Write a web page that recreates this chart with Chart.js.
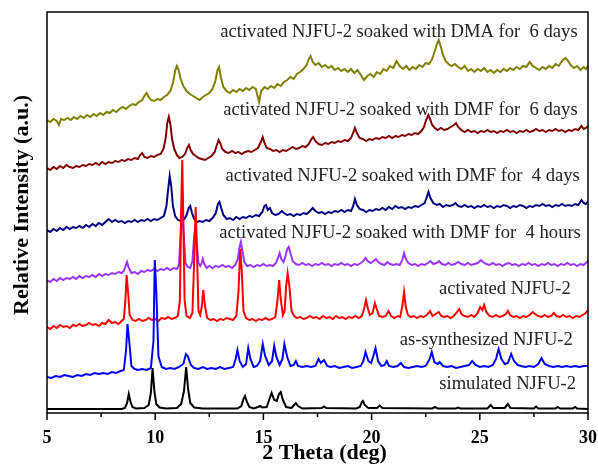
<!DOCTYPE html>
<html>
<head>
<meta charset="utf-8">
<script src="https://cdn.jsdelivr.net/npm/chart.js@4.4.1/dist/chart.umd.min.js"></script>
<style>
  html, body { margin: 0; padding: 0; background: #fff; }
  #wrap { width: 598px; height: 472px; }
</style>
</head>
<body>
<div id="wrap"><canvas id="pxrd" width="598" height="472"></canvas></div>
<script>
// stacked PXRD patterns, x = 2 theta (deg), y = intensity (a.u., already offset)
const patternNames = [
  "simulated NJFU-2",
  "as-synthesized NJFU-2",
  "activated NJFU-2",
  "activated NJFU-2 soaked with DMF for  4 hours",
  "activated NJFU-2 soaked with DMF for  4 days",
  "activated NJFU-2 soaked with DMF for  6 days",
  "activated NJFU-2 soaked with DMA for  6 days",
];
const xTicks = [5, 10, 15, 20, 25, 30];

const simulated = [
  [5,2],[8.45,2],[8.6,3],[8.7,8],[8.78,17],[8.86,9],[8.95,4],[9.1,2.5],[9.5,3],[9.7,6],[9.8,18],[9.88,43],[9.96,20],
  [10.05,7],[10.2,3.5],[10.5,2.5],[11.0,3],[11.2,7],[11.33,20],[11.43,44],[11.52,22],[11.62,8],[11.8,3.5],[12.2,2.5],
  [13.8,2.5],[13.98,5],[14.08,12],[14.15,15],[14.24,9],[14.35,4],[14.55,2.5],[14.75,4],[14.85,5],[14.95,3.5],[15.15,4],
  [15.28,12],[15.38,18],[15.5,11],[15.62,10],[15.72,17],[15.8,19],[15.9,11],[16.05,4],[16.3,3],[16.42,6],[16.5,8],
  [16.6,5],[16.8,2.5],[17.7,3],[17.8,4.5],[17.9,3],[19.3,2.5],[19.45,4],[19.55,9],[19.6,10],[19.68,6],[19.85,3],
  [20.25,3],[20.38,5.5],[20.5,3],[22.8,2.5],[22.93,4],[23.05,2.5],[23.9,2.5],[24.0,3.5],[24.1,2.5],[25.35,2.5],
  [25.5,6],[25.62,3],[26.15,3],[26.3,7],[26.42,3],[27.5,2.5],[27.6,4.5],[27.7,2.5],[28.5,2.5],[28.6,4],[28.7,2.5],
  [29.3,2.5],[29.4,4],[29.5,2.5],[30,2]
];

const asSynthesized = [
  [5,34],[5.2,33],[5.4,35],[5.6,34],[5.8,36],[6,35],[6.2,34],[6.4,36],[6.6,35],[6.8,37],[7,36],[7.2,38],[7.4,37],
  [7.6,38],[7.8,37],[8,39],[8.2,38],[8.4,40],[8.55,41],[8.65,60],[8.72,87],[8.8,70],[8.9,45],[9.05,42],[9.2,41],
  [9.4,42],[9.6,41],[9.8,43],[9.92,70],[9.98,151],[10.05,120],[10.15,55],[10.3,44],[10.5,42],[10.7,43],[10.9,42],
  [11.1,44],[11.3,47],[11.42,57],[11.5,55],[11.65,46],[11.8,43],[12,42],[12.2,44],[12.4,42],[12.6,43],[12.8,42],
  [13,44],[13.2,42],[13.4,43],[13.6,44],[13.72,52],[13.8,61],[13.9,50],[14.05,44],[14.2,47],[14.3,63],[14.4,52],
  [14.55,44],[14.7,45],[14.85,50],[14.97,67],[15.08,55],[15.25,46],[15.4,50],[15.5,65],[15.6,54],[15.75,46],
  [15.88,52],[15.97,67],[16.1,54],[16.25,45],[16.4,46],[16.5,50],[16.6,45],[16.8,44],[17,45],[17.2,44],[17.4,45],
  [17.55,52],[17.65,48],[17.8,51],[17.95,45],[18.1,44],[18.3,45],[18.5,43],[18.7,44],[18.9,45],[19.1,43],[19.3,44],
  [19.5,45],[19.62,50],[19.72,59],[19.85,50],[19.98,48],[20.08,55],[20.18,63],[20.3,50],[20.45,45],[20.6,46],
  [20.7,50],[20.8,45],[21,44],[21.2,45],[21.35,48],[21.5,44],[21.7,43],[21.9,44],[22.1,45],[22.3,44],[22.5,45],
  [22.68,52],[22.78,59],[22.9,49],[23.05,47],[23.15,49],[23.3,45],[23.5,44],[23.7,45],[23.9,43],[24.1,44],[24.3,45],
  [24.5,46],[24.65,50],[24.8,46],[25,44],[25.2,45],[25.4,44],[25.6,46],[25.75,52],[25.87,62],[26,52],[26.15,47],
  [26.3,48],[26.45,57],[26.58,50],[26.75,46],[26.9,45],[27.1,44],[27.3,45],[27.5,44],[27.7,47],[27.85,53],[28,47],
  [28.2,45],[28.4,44],[28.6,45],[28.8,44],[29,45],[29.2,44],[29.4,45],[29.6,44],[29.8,45],[30,45]
];

const activated = [
  [5,84],[5.15,82],[5.3,85],[5.45,83],[5.6,86],[5.75,84],[5.9,85],[6.05,83],[6.2,86],[6.35,85],[6.5,87],[6.65,85],
  [6.8,86],[6.95,88],[7.1,86],[7.25,87],[7.4,85],[7.55,88],[7.7,87],[7.85,91],[8.0,88],[8.15,89],[8.3,87],[8.45,90],
  [8.55,92],[8.62,110],[8.68,136],[8.75,118],[8.82,96],[8.95,91],[9.1,90],[9.25,92],[9.4,90],[9.55,91],[9.7,93],
  [9.85,91],[10.0,92],[10.15,90],[10.3,93],[10.45,92],[10.6,94],[10.75,92],[10.9,93],[11.05,95],[11.14,110],
  [11.2,200],[11.25,251],[11.3,190],[11.36,110],[11.45,95],[11.6,93],[11.72,98],[11.8,150],[11.87,204],[11.93,160],
  [12.0,100],[12.08,96],[12.15,104],[12.22,121],[12.3,105],[12.4,93],[12.55,91],[12.7,92],[12.85,90],[13.0,92],
  [13.15,91],[13.3,93],[13.45,92],[13.6,91],[13.75,95],[13.85,120],[13.93,162],[14.0,140],[14.08,100],[14.2,93],
  [14.35,91],[14.5,92],[14.65,90],[14.8,92],[14.95,91],[15.1,93],[15.25,91],[15.4,92],[15.55,94],[15.65,110],
  [15.73,131],[15.8,112],[15.9,96],[15.98,100],[16.05,125],[16.12,138],[16.2,125],[16.3,100],[16.42,95],[16.55,93],
  [16.7,94],[16.85,92],[17.0,93],[17.15,95],[17.3,93],[17.45,94],[17.6,92],[17.75,95],[17.9,93],[18.05,94],
  [18.2,92],[18.35,95],[18.5,93],[18.65,94],[18.8,92],[18.95,94],[19.1,93],[19.25,95],[19.4,93],[19.55,95],
  [19.65,102],[19.74,111],[19.82,103],[19.92,96],[20.05,98],[20.15,108],[20.24,102],[20.35,95],[20.5,94],[20.65,95],
  [20.78,100],[20.9,95],[21.05,93],[21.2,95],[21.32,94],[21.42,105],[21.5,119],[21.58,104],[21.68,96],[21.8,94],
  [21.95,95],[22.1,93],[22.25,95],[22.4,94],[22.55,96],[22.7,100],[22.82,95],[22.95,97],[23.1,99],[23.22,95],
  [23.35,94],[23.5,95],[23.65,93],[23.8,95],[23.95,99],[24.05,102],[24.15,97],[24.3,95],[24.45,94],[24.6,96],
  [24.75,94],[24.9,98],[25.02,104],[25.12,101],[25.2,106],[25.3,99],[25.45,95],[25.6,94],[25.75,96],[25.9,94],
  [26.05,95],[26.2,97],[26.3,100],[26.4,96],[26.55,94],[26.7,95],[26.85,93],[27.0,95],[27.15,94],[27.3,96],
  [27.45,99],[27.55,97],[27.7,95],[27.85,94],[28.0,96],[28.15,94],[28.3,95],[28.42,98],[28.55,95],[28.7,94],
  [28.85,96],[29.0,94],[29.15,95],[29.3,93],[29.45,95],[29.6,94],[29.75,96],[29.9,98],[30,101]
];

const dmf4hours = [
  [5,131],[5.15,129],[5.3,132],[5.45,130],[5.6,133],[5.75,131],[5.9,133],[6.05,132],[6.2,134],[6.35,132],[6.5,135],
  [6.65,133],[6.8,135],[6.95,134],[7.1,136],[7.25,134],[7.4,137],[7.55,135],[7.7,137],[7.85,136],[8.0,138],
  [8.15,137],[8.3,139],[8.45,138],[8.55,140],[8.63,145],[8.7,149],[8.78,143],[8.9,138],[9.05,139],[9.2,137],
  [9.35,140],[9.5,139],[9.65,141],[9.8,140],[9.95,142],[10.1,140],[10.25,142],[10.4,141],[10.55,143],[10.7,141],
  [10.85,143],[11.0,142],[11.1,146],[11.18,180],[11.25,203],[11.32,175],[11.4,148],[11.5,144],[11.62,143],
  [11.72,150],[11.8,175],[11.86,184],[11.93,165],[12.0,148],[12.08,145],[12.15,148],[12.2,152],[12.27,147],
  [12.38,143],[12.5,145],[12.65,143],[12.8,145],[12.95,144],[13.1,146],[13.25,144],[13.4,145],[13.55,143],
  [13.7,146],[13.82,152],[13.9,164],[13.96,169],[14.03,160],[14.12,149],[14.25,145],[14.4,146],[14.55,144],
  [14.7,146],[14.85,145],[15.0,147],[15.15,145],[15.3,146],[15.45,145],[15.58,148],[15.67,153],[15.75,158],
  [15.83,152],[15.93,149],[16.02,155],[16.1,162],[16.17,164],[16.25,158],[16.35,150],[16.5,147],[16.65,146],
  [16.8,148],[16.95,146],[17.1,147],[17.25,145],[17.4,147],[17.55,146],[17.7,148],[17.85,146],[18.0,147],
  [18.15,145],[18.3,147],[18.45,146],[18.6,148],[18.75,146],[18.9,147],[19.05,145],[19.2,147],[19.35,146],
  [19.5,148],[19.62,150],[19.72,153],[19.82,150],[19.95,148],[20.1,150],[20.2,152],[20.3,149],[20.45,147],
  [20.6,146],[20.72,149],[20.85,147],[21.0,146],[21.15,147],[21.3,146],[21.42,151],[21.5,158],[21.58,152],
  [21.7,148],[21.85,146],[22.0,147],[22.15,145],[22.3,147],[22.45,146],[22.6,148],[22.72,150],[22.85,147],
  [23.0,148],[23.12,150],[23.25,147],[23.4,146],[23.55,148],[23.7,146],[23.85,147],[24.0,149],[24.15,147],
  [24.3,146],[24.45,148],[24.6,146],[24.75,147],[24.9,148],[25.05,151],[25.15,149],[25.3,147],[25.45,146],
  [25.6,148],[25.75,146],[25.9,147],[26.05,145],[26.2,147],[26.35,148],[26.5,146],[26.65,147],[26.8,145],
  [26.95,147],[27.1,146],[27.25,148],[27.4,146],[27.55,147],[27.7,145],[27.85,147],[28.0,146],[28.15,148],
  [28.3,146],[28.45,147],[28.6,145],[28.75,147],[28.9,146],[29.05,148],[29.2,146],[29.35,147],[29.5,145],
  [29.65,147],[29.8,146],[29.9,148],[30,150]
];

const dmf4days = [
  [5,181],[5.15,179],[5.3,182],[5.45,180],[5.6,183],[5.75,181],[5.9,184],[6.05,182],[6.2,184],[6.35,183],[6.5,185],
  [6.65,183],[6.8,186],[6.95,184],[7.1,187],[7.25,185],[7.4,188],[7.55,186],[7.7,189],[7.85,192],[8.0,189],
  [8.15,191],[8.3,189],[8.45,190],[8.6,188],[8.75,190],[8.9,189],[9.05,191],[9.2,189],[9.35,191],[9.5,190],
  [9.65,192],[9.8,190],[9.95,192],[10.1,191],[10.25,193],[10.4,195],[10.52,205],[10.6,222],[10.67,235],[10.74,225],
  [10.82,205],[10.92,195],[11.05,191],[11.2,190],[11.35,192],[11.45,196],[11.55,203],[11.62,205],[11.7,198],
  [11.8,192],[11.92,189],[12.05,190],[12.2,189],[12.35,191],[12.5,190],[12.65,193],[12.8,198],[12.9,207],
  [12.97,209],[13.05,203],[13.15,196],[13.3,192],[13.45,193],[13.6,191],[13.75,194],[13.9,192],[14.05,194],
  [14.2,193],[14.35,195],[14.5,194],[14.65,196],[14.8,195],[14.95,199],[15.05,205],[15.12,206],[15.2,201],
  [15.3,203],[15.4,198],[15.55,196],[15.7,197],[15.85,200],[15.95,198],[16.1,196],[16.25,197],[16.4,195],
  [16.55,197],[16.7,196],[16.85,198],[17.0,197],[17.15,200],[17.28,203],[17.4,200],[17.55,198],[17.7,199],
  [17.85,197],[18.0,199],[18.15,198],[18.3,200],[18.45,199],[18.6,201],[18.75,199],[18.9,201],[19.05,200],
  [19.15,205],[19.23,212],[19.32,206],[19.45,202],[19.6,201],[19.75,199],[19.9,201],[20.05,200],[20.2,202],
  [20.35,201],[20.5,203],[20.65,201],[20.8,204],[20.95,202],[21.1,205],[21.25,203],[21.4,204],[21.55,202],
  [21.7,204],[21.85,203],[22.0,205],[22.15,204],[22.3,206],[22.45,208],[22.55,214],[22.63,219],[22.72,213],
  [22.85,208],[23.0,206],[23.15,207],[23.3,204],[23.45,206],[23.6,205],[23.75,206],[23.88,208],[24.0,205],
  [24.15,204],[24.3,206],[24.45,204],[24.6,205],[24.75,203],[24.9,205],[25.05,204],[25.2,206],[25.35,204],
  [25.5,205],[25.65,203],[25.8,205],[25.95,204],[26.1,206],[26.25,205],[26.4,203],[26.55,205],[26.7,204],
  [26.85,206],[27.0,205],[27.15,203],[27.3,205],[27.45,204],[27.6,206],[27.75,205],[27.9,207],[28.05,205],
  [28.2,206],[28.35,204],[28.5,206],[28.65,205],[28.8,207],[28.95,205],[29.1,206],[29.25,205],[29.4,207],
  [29.55,206],[29.7,211],[29.8,208],[29.9,207],[30,209]
];

const dmf6days = [
  [5,243],[5.15,241],[5.3,244],[5.45,242],[5.6,245],[5.75,243],[5.9,246],[6.05,244],[6.2,243],[6.35,245],[6.5,244],
  [6.65,246],[6.8,245],[6.95,247],[7.1,246],[7.25,248],[7.4,246],[7.55,249],[7.7,247],[7.85,249],[8.0,248],
  [8.15,250],[8.3,249],[8.45,251],[8.6,250],[8.75,252],[8.9,251],[9.05,253],[9.2,252],[9.3,256],[9.4,258],
  [9.5,254],[9.65,253],[9.8,255],[9.95,254],[10.1,256],[10.25,257],[10.38,262],[10.48,272],[10.56,288],[10.63,294],
  [10.7,287],[10.78,272],[10.88,262],[11.0,256],[11.12,253],[11.25,254],[11.38,257],[11.48,263],[11.56,266],
  [11.64,261],[11.75,257],[11.88,255],[12.0,253],[12.15,252],[12.3,251],[12.45,253],[12.6,255],[12.75,259],
  [12.85,266],[12.93,271],[13.0,268],[13.1,262],[13.25,259],[13.4,258],[13.55,260],[13.7,258],[13.85,259],
  [14.0,257],[14.15,259],[14.3,260],[14.45,259],[14.6,261],[14.75,263],[14.88,269],[14.97,274],[15.05,268],
  [15.15,263],[15.3,262],[15.45,260],[15.6,261],[15.75,259],[15.9,261],[16.05,260],[16.2,262],[16.35,264],
  [16.5,262],[16.65,263],[16.8,265],[16.95,264],[17.1,267],[17.22,272],[17.3,274],[17.4,270],[17.55,267],
  [17.7,266],[17.85,268],[18.0,267],[18.15,269],[18.3,268],[18.45,270],[18.6,269],[18.75,271],[18.9,270],
  [19.05,273],[19.15,278],[19.23,283],[19.32,278],[19.45,273],[19.6,272],[19.75,270],[19.9,272],[20.05,271],
  [20.2,273],[20.35,272],[20.5,274],[20.65,273],[20.8,275],[20.95,273],[21.1,275],[21.25,274],[21.4,276],
  [21.55,275],[21.7,277],[21.85,276],[22.0,278],[22.15,277],[22.3,280],[22.42,284],[22.52,291],[22.62,296],
  [22.7,292],[22.8,286],[22.92,283],[23.05,281],[23.2,283],[23.35,281],[23.5,282],[23.65,284],[23.8,286],
  [23.9,288],[24.0,284],[24.15,281],[24.3,279],[24.45,281],[24.6,279],[24.75,280],[24.9,278],[25.05,280],
  [25.2,279],[25.35,281],[25.5,279],[25.65,280],[25.8,278],[25.95,280],[26.1,279],[26.25,281],[26.4,279],
  [26.55,280],[26.7,278],[26.85,280],[27.0,279],[27.15,281],[27.3,279],[27.45,280],[27.6,282],[27.75,280],
  [27.9,281],[28.05,279],[28.2,281],[28.35,280],[28.5,282],[28.65,280],[28.8,281],[28.95,279],[29.1,281],
  [29.25,280],[29.4,282],[29.55,281],[29.7,285],[29.8,282],[29.9,283],[30,285]
];

const dma6days = [
  [5,291],[5.15,289],[5.3,292],[5.45,290],[5.55,286],[5.65,292],[5.8,291],[5.95,293],[6.1,291],[6.25,294],[6.4,292],
  [6.55,295],[6.7,293],[6.85,296],[7.0,294],[7.15,297],[7.3,295],[7.45,298],[7.6,296],[7.75,299],[7.9,298],
  [8.05,301],[8.2,299],[8.35,302],[8.5,304],[8.65,302],[8.8,305],[8.95,307],[9.1,306],[9.25,309],[9.4,311],
  [9.5,315],[9.6,318],[9.7,314],[9.8,311],[9.95,310],[10.1,312],[10.25,311],[10.4,314],[10.55,316],[10.7,320],
  [10.82,328],[10.92,340],[11.0,345],[11.08,341],[11.18,332],[11.3,325],[11.45,320],[11.6,317],[11.75,315],
  [11.9,313],[12.05,311],[12.2,314],[12.35,316],[12.5,318],[12.65,322],[12.78,330],[12.88,341],[12.95,344],
  [13.03,334],[13.15,324],[13.3,320],[13.45,318],[13.6,321],[13.75,319],[13.9,322],[14.05,320],[14.2,323],
  [14.35,321],[14.5,324],[14.65,322],[14.8,309],[14.9,320],[15.05,324],[15.2,322],[15.35,325],[15.5,323],
  [15.65,327],[15.8,325],[15.95,329],[16.1,331],[16.25,334],[16.4,332],[16.55,337],[16.7,339],[16.85,342],
  [17.0,346],[17.1,352],[17.18,355],[17.28,349],[17.4,346],[17.55,348],[17.7,344],[17.85,346],[18.0,343],
  [18.15,345],[18.3,341],[18.45,343],[18.6,340],[18.75,342],[18.9,339],[19.05,342],[19.2,338],[19.35,341],
  [19.5,336],[19.65,331],[19.8,335],[19.95,337],[20.1,334],[20.25,339],[20.4,337],[20.55,342],[20.7,340],
  [20.85,345],[21.0,343],[21.15,350],[21.3,345],[21.45,342],[21.6,345],[21.75,341],[21.9,344],[22.05,342],
  [22.2,346],[22.35,344],[22.5,348],[22.65,347],[22.8,352],[22.92,360],[23.02,367],[23.1,371],[23.2,364],
  [23.3,356],[23.42,350],[23.55,347],[23.7,345],[23.85,347],[24.0,344],[24.15,342],[24.3,345],[24.45,340],
  [24.6,342],[24.75,339],[24.9,342],[25.05,340],[25.2,343],[25.35,339],[25.5,341],[25.65,338],[25.8,341],
  [25.95,339],[26.1,342],[26.25,340],[26.4,343],[26.55,341],[26.7,344],[26.85,342],[27.0,345],[27.15,344],
  [27.3,349],[27.45,345],[27.6,343],[27.75,341],[27.9,344],[28.05,342],[28.2,345],[28.35,343],[28.5,347],
  [28.65,345],[28.8,350],[28.95,353],[29.05,351],[29.2,346],[29.35,343],[29.5,345],[29.65,341],[29.8,344],
  [29.9,342],[30,345]
];

const patterns = [simulated, asSynthesized, activated, dmf4hours, dmf4days, dmf6days, dma6days];
const colors = ["#000000", "#0000ff", "#ff0000", "#9933ff", "#000080", "#800000", "#808000"];

const serif = "'Liberation Serif', 'Times New Roman', serif";

// where each pattern name sits: right edge (deg) and vertical centre (a.u.)
const nameAnchors = [
  [29.45, 27], [29.3, 71], [29.2, 122], [29.67, 178], [29.62, 235], [29.52, 301], [29.52, 379]
];

const framePlugin = {
  id: "frame",
  afterDraw(chart) {
    const { ctx, chartArea: a, scales } = chart;
    const xs = scales.x, ys = scales.y;
    ctx.save();
    ctx.strokeStyle = "#000";
    ctx.lineWidth = 1.5;
    ctx.strokeRect(a.left, a.top, a.right - a.left, a.bottom - a.top);

    // bottom ticks, major + minor, pointing out
    for (let v = 5; v <= 30; v += 2.5) {
      const px = xs.getPixelForValue(v);
      const len = v % 5 === 0 ? 7 : 4;
      ctx.beginPath();
      ctx.moveTo(px, a.bottom);
      ctx.lineTo(px, a.bottom + len);
      ctx.stroke();
    }

    // pattern names
    ctx.fillStyle = "#222";
    ctx.font = "18.6px " + serif;
    ctx.textAlign = "right";
    ctx.textBaseline = "middle";
    patternNames.forEach((name, i) => {
      const [dx, dy] = nameAnchors[i];
      ctx.fillText(name, xs.getPixelForValue(dx), ys.getPixelForValue(dy));
    });

    // axis titles
    ctx.fillStyle = "#000";
    ctx.font = "bold 22px " + serif;
    ctx.textAlign = "center";
    ctx.fillText("2 Theta (deg)", (a.left + a.right) / 2 + 7, 453);
    ctx.translate(22, 205);
    ctx.rotate(-Math.PI / 2);
    ctx.fillText("Relative Intensity (a.u.)", 0, 0);
    ctx.restore();
  },
};

const datasets = patterns.map((pts, i) => ({
  label: patternNames[i],
  data: pts.map(([x, y]) => ({ x: x, y: y })),
  borderColor: colors[i],
  borderWidth: 2,
  pointRadius: 0,
  tension: 0,
  fill: false,
  order: i,
}));

new Chart(document.getElementById("pxrd"), {
  type: "line",
  data: { datasets: datasets },
  options: {
    responsive: false,
    animation: false,
    layout: { padding: { top: 12, right: 10, left: 0, bottom: 0 } },
    plugins: { legend: { display: false }, tooltip: { enabled: false } },
    scales: {
      x: {
        type: "linear",
        min: 5,
        max: 30,
        afterBuildTicks: (s) => { s.ticks = xTicks.map((v) => ({ value: v })); },
        ticks: { color: "#000", padding: 15, maxRotation: 0, font: { family: serif, weight: "bold", size: 18 } },
        grid: { display: false, drawTicks: false },
        border: { display: false },
        afterFit: (s) => { s.height = 59; s.paddingLeft = 0; s.paddingRight = 0; },
      },
      y: {
        min: -2,
        max: 399,
        ticks: { display: false },
        grid: { display: false, drawTicks: false },
        border: { display: false },
        afterFit: (s) => { s.width = 47; s.paddingTop = 0; s.paddingBottom = 0; },
      },
    },
  },
  plugins: [framePlugin],
});
</script>
</body>
</html>
